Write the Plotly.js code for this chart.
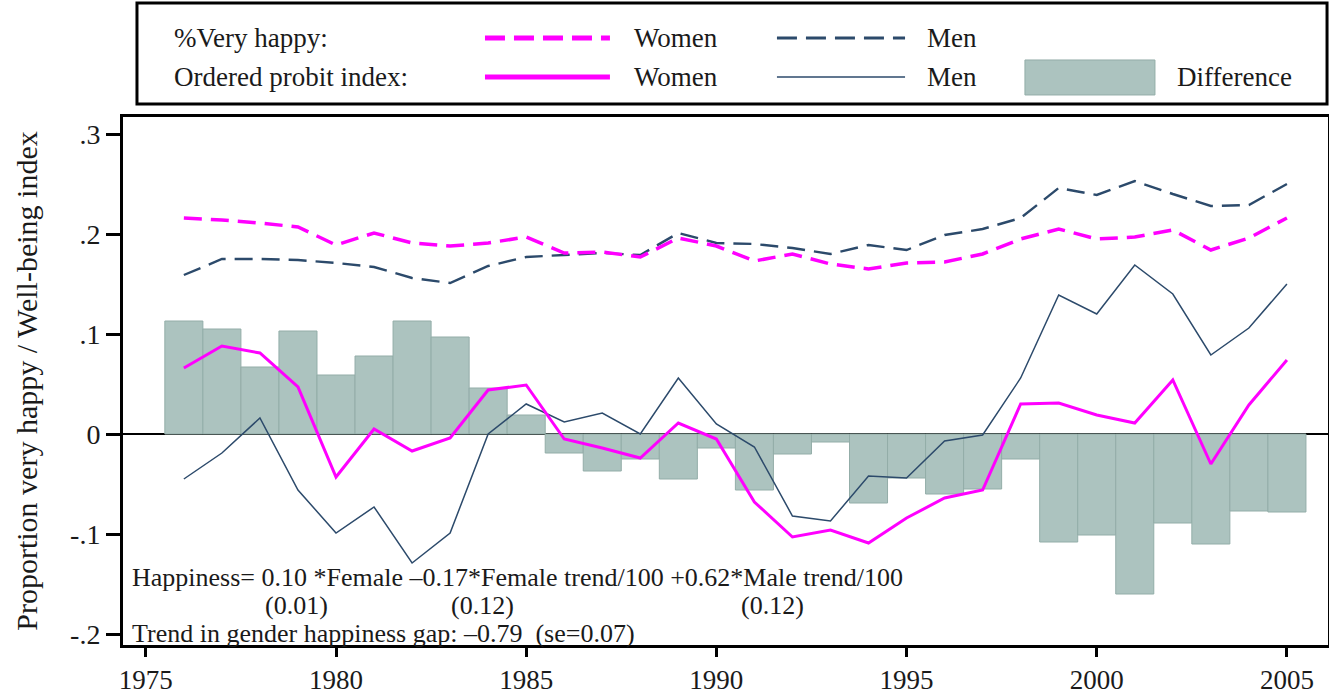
<!DOCTYPE html>
<html>
<head>
<meta charset="utf-8">
<script src="https://cdn.plot.ly/plotly-3.0.1.min.js"></script>
<style>html,body{margin:0;padding:0;background:#fff;}#chart{width:1329px;height:695px;}</style>
</head>
<body>
<div id="chart"></div>
<script>
const years = [1976,1977,1978,1979,1980,1981,1982,1983,1984,1985,1986,1987,1988,1989,1990,1991,1992,1993,1994,1995,1996,1997,1998,1999,2000,2001,2002,2003,2004,2005];

const difference = [0.113,0.105,0.067,0.103,0.059,0.078,0.113,0.097,0.046,0.019,-0.019,-0.037,-0.025,-0.045,-0.014,-0.056,-0.020,-0.008,-0.069,-0.044,-0.060,-0.055,-0.025,-0.108,-0.101,-0.160,-0.089,-0.110,-0.077,-0.078];

const womenIndex = [0.066,0.088,0.081,0.047,-0.043,0.005,-0.017,-0.004,0.044,0.049,-0.005,-0.014,-0.024,0.011,-0.005,-0.068,-0.103,-0.096,-0.109,-0.084,-0.064,-0.056,0.030,0.031,0.019,0.011,0.054,-0.030,0.029,0.074];

const menIndex = [-0.045,-0.019,0.016,-0.056,-0.099,-0.073,-0.129,-0.099,0.000,0.030,0.012,0.021,0.000,0.056,0.010,-0.013,-0.082,-0.087,-0.042,-0.044,-0.007,-0.001,0.056,0.139,0.120,0.169,0.140,0.079,0.106,0.150];

const womenVeryHappy = [0.216,0.214,0.211,0.207,0.189,0.201,0.191,0.188,0.191,0.197,0.181,0.182,0.177,0.196,0.188,0.173,0.180,0.170,0.165,0.171,0.172,0.180,0.195,0.205,0.195,0.197,0.204,0.184,0.196,0.216];

const menVeryHappy = [0.159,0.175,0.175,0.174,0.171,0.167,0.156,0.151,0.168,0.177,0.179,0.181,0.179,0.201,0.191,0.190,0.186,0.180,0.189,0.184,0.199,0.205,0.216,0.246,0.239,0.253,0.240,0.228,0.229,0.250];

const xTickVals = [1975,1980,1985,1990,1995,2000,2005];
const xTickText = ['1975','1980','1985','1990','1995','2000','2005'];
const yTickVals = [0.3,0.2,0.1,0,-0.1,-0.2];
const yTickText = ['.3','.2','.1','0','-.1','-.2'];

const MAGENTA = '#ff00ff';
const NAVY = '#2c4a6b';
const BARFILL = '#acc3bf';
const BARLINE = '#93ada8';
const FONT = "'Liberation Serif', 'Times New Roman', serif";
const TXT = '#1a1a1a';

const traces = [
  {type:'bar', x:years, y:difference, width:1, marker:{color:BARFILL, line:{color:BARLINE, width:1}}, name:'Difference'},
  {type:'scatter', mode:'lines', x:years, y:menIndex, line:{color:NAVY, width:1.5}, name:'Men index'},
  {type:'scatter', mode:'lines', x:years, y:womenIndex, line:{color:MAGENTA, width:3}, name:'Women index'},
  {type:'scatter', mode:'lines', x:years, y:menVeryHappy, line:{color:NAVY, width:2.4, dash:'18px,9px'}, name:'Men very happy'},
  {type:'scatter', mode:'lines', x:years, y:womenVeryHappy, line:{color:MAGENTA, width:3.5, dash:'18px,9px'}, name:'Women very happy'}
];

// legend geometry in paper coordinates (plot area: x 123..1328 px, y 117..645 px)
const row1 = 1.1496, row2 = 1.0758;
const shapes = [
  {type:'rect', xref:'paper', yref:'paper', x0:0.0116, x1:0.9992, y0:1.0246, y1:1.2159, line:{color:'#000', width:3}, fillcolor:'rgba(0,0,0,0)'},
  {type:'line', xref:'paper', yref:'paper', x0:0.3004, x1:0.4041, y0:row1, y1:row1, line:{color:MAGENTA, width:5, dash:'20px,9px'}},
  {type:'line', xref:'paper', yref:'paper', x0:0.5427, x1:0.649, y0:row1, y1:row1, line:{color:NAVY, width:3, dash:'20px,9px'}},
  {type:'line', xref:'paper', yref:'paper', x0:0.3004, x1:0.4041, y0:row2, y1:row2, line:{color:MAGENTA, width:5}},
  {type:'line', xref:'paper', yref:'paper', x0:0.5427, x1:0.649, y0:row2, y1:row2, line:{color:NAVY, width:1.5}},
  {type:'rect', xref:'paper', yref:'paper', x0:0.7485, x1:0.8564, y0:1.0417, y1:1.108, line:{color:BARLINE, width:1}, fillcolor:BARFILL}
];

function ann(text, x, y, xanchor, size){
  return {text:text, x:x, y:y, xref:'paper', yref:'paper', xanchor:xanchor, yanchor:'middle', showarrow:false, font:{family:FONT, size:size, color:TXT}};
}
const LS = 27;
const AS = 26;
const annotations = [
  ann('%Very happy:', 0.0407, row1, 'left', LS),
  ann('Women', 0.4224, row1, 'left', LS),
  ann('Men', 0.6656, row1, 'left', LS),
  ann('Ordered probit index:', 0.0407, row2, 'left', LS),
  ann('Women', 0.4224, row2, 'left', LS),
  ann('Men', 0.6656, row2, 'left', LS),
  ann('Difference', 0.873, row2, 'left', LS),
  ann('Happiness= 0.10 *Female \u20130.17*Female trend/100 +0.62*Male trend/100', 0.0058, 0.1275, 'left', AS),
  ann('(0.01)', 0.1436, 0.0739, 'center', AS),
  ann('(0.12)', 0.298, 0.0739, 'center', AS),
  ann('(0.12)', 0.5394, 0.0739, 'center', AS),
  ann('Trend in gender happiness gap: \u20130.79  (se=0.07)', 0.0058, 0.0227, 'left', AS)
];

const layout = {
  width:1329, height:695,
  margin:{l:123, r:1, t:117, b:50, pad:0},
  paper_bgcolor:'#fff', plot_bgcolor:'#fff',
  showlegend:false,
  bargap:0,
  font:{family:FONT, color:TXT},
  xaxis:{
    range:[1974.4, 2006.08], tickvals:xTickVals, ticktext:xTickText,
    showgrid:false, zeroline:false, showline:true, mirror:true, linecolor:'#000', linewidth:3,
    ticks:'outside', ticklen:9, tickwidth:3, tickcolor:'#000',
    tickfont:{family:FONT, size:27, color:TXT}
  },
  yaxis:{
    range:[-0.211, 0.317], tickvals:yTickVals, ticktext:yTickText,
    showgrid:false, zeroline:true, zerolinecolor:'#000', zerolinewidth:2.5,
    showline:true, mirror:true, linecolor:'#000', linewidth:3,
    ticks:'outside', ticklen:14, tickwidth:3, tickcolor:'#000',
    tickfont:{family:FONT, size:28, color:TXT},
    title:{text:'Proportion very happy / Well-being index', font:{family:FONT, size:30, color:TXT}, standoff:24}
  },
  shapes:shapes,
  annotations:annotations
};

Plotly.newPlot('chart', traces, layout, {displayModeBar:false, staticPlot:true});
</script>
</body>
</html>
